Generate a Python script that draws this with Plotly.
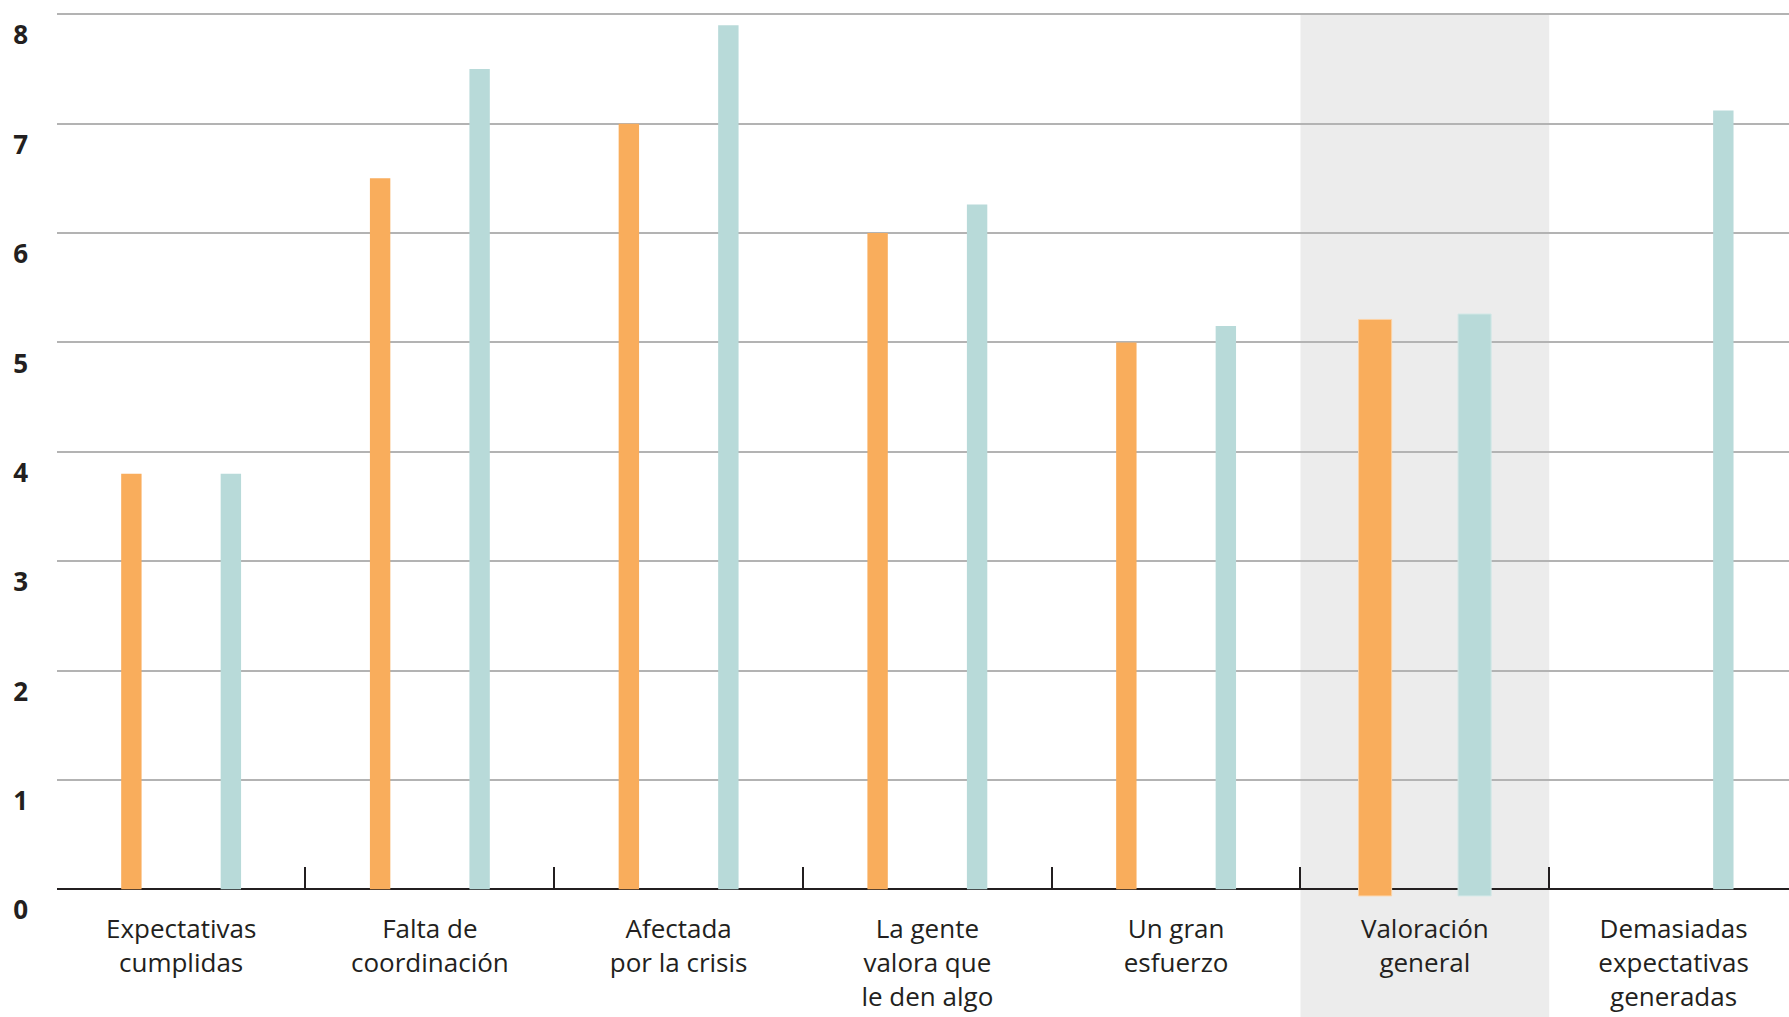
import plotly.graph_objects as go

# ── datos ──
categorias = ["Expectativas<br>cumplidas", "Falta de<br>coordinación", "Afectada<br>por la crisis",
              "La gente<br>valora que<br>le den algo", "Un gran<br>esfuerzo",
              "Valoración<br>general", "Demasiadas<br>expectativas<br>generadas"]
serie_naranja = [3.8, 6.5, 7.0, 6.0, 5.0, 5.21, None]
serie_turquesa = [3.8, 7.5, 7.9, 6.26, 5.15, 5.26, 7.12]
y_ticks = [0, 1, 2, 3, 4, 5, 6, 7, 8]
destacado = "Valoración<br>general"

NARANJA = "#f9ad5c"
TURQUESA = "#b8dad9"
TEXTO = "#231f20"
Y_MIN, Y_MAX = -0.07, 8.03

n = len(categorias)
idx_dest = categorias.index(destacado)
# la categoría destacada lleva barras más anchas que bajan un poco por debajo del eje
anchos = [0.133 if i == idx_dest else 0.082 for i in range(n)]
bases = [-0.06 if i == idx_dest else 0 for i in range(n)]
bordes = [1 if i == idx_dest else 0 for i in range(n)]


def alturas(vals):
    return [None if v is None else v - b for v, b in zip(vals, bases)]


def frac(v):
    return (v - Y_MIN) / (Y_MAX - Y_MIN)


fig = go.Figure()
fig.add_trace(go.Bar(x=categorias, y=alturas(serie_naranja), base=bases, width=anchos,
                     offset=[-0.2 - w / 2 for w in anchos],
                     marker=dict(color=NARANJA, line=dict(width=bordes, color="#fcd3a6"))))
fig.add_trace(go.Bar(x=categorias, y=alturas(serie_turquesa), base=bases, width=anchos,
                     offset=[0.2 - w / 2 for w in anchos],
                     marker=dict(color=TURQUESA, line=dict(width=bordes, color="#d3e8e7"))))

# banda gris tras "Valoración general", desde la línea superior hasta el pie
fig.add_shape(type="rect", xref="x", yref="paper", x0=idx_dest - 0.5, x1=idx_dest + 0.5,
              y0=-0.3, y1=frac(y_ticks[-1]), fillcolor="#ececec", line=dict(width=0),
              layer="below")

fig.update_layout(
    width=1789, height=1017,
    margin=dict(l=57, r=0, t=11, b=120, autoexpand=False),
    paper_bgcolor="white", plot_bgcolor="white",
    barmode="overlay", showlegend=False,
    font=dict(family="Open Sans", color=TEXTO),
    xaxis=dict(type="category", range=[-0.499, n - 0.536], automargin=False,
               anchor="free", position=frac(0),
               tickson="boundaries", ticks="inside", ticklen=22, tickwidth=2,
               tickcolor=TEXTO, showgrid=False, showline=False, zeroline=False,
               ticklabelstandoff=22,
               tickfont=dict(family="Open Sans", size=26, color=TEXTO)),
    yaxis=dict(range=[Y_MIN, Y_MAX], tickvals=y_ticks, showgrid=True, automargin=False,
               gridcolor="#b3b3b3", gridwidth=1.5, zeroline=True,
               zerolinecolor=TEXTO, zerolinewidth=2, showline=False, ticks="",
               ticklabelstandoff=28, ticklabelshift=21,
               tickfont=dict(family="Open Sans", size=26, color=TEXTO, weight="bold")),
)

# sin margen del body: la figura ocupa exactamente la ventana
fig.write_html("out.html", config={"displayModeBar": False},
               post_script="document.body.style.margin='0';document.body.style.overflow='hidden';")
